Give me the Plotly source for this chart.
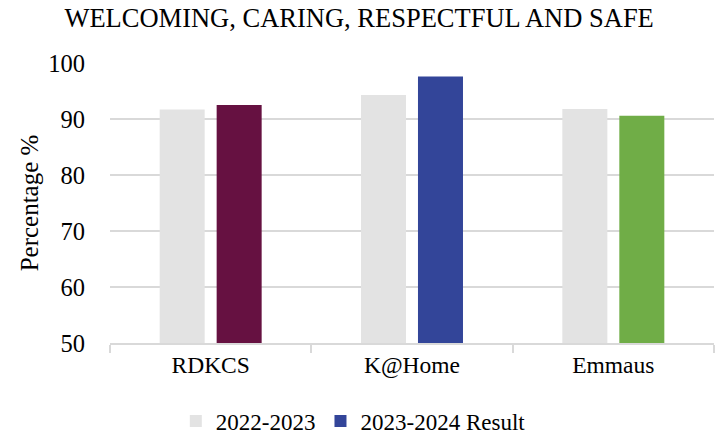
import plotly.graph_objects as go

# Survey results: share of respondents (%) agreeing with the statement
categories = ["RDKCS", "K@Home", "Emmaus"]
series_prev_name = "2022-2023"
series_curr_name = "2023-2024 Result"
values_prev = [91.7, 94.3, 91.8]
values_curr = [92.5, 97.6, 90.6]

prev_color = "#E3E3E3"
curr_colors = ["#661141", "#334599", "#70AD47"]
legend_curr_color = "#334599"

FONT = "Liberation Serif, Times New Roman, serif"
GRID = "#D9D9D9"

fig = go.Figure()
fig.add_trace(go.Bar(
    x=categories, y=values_prev, name=series_prev_name,
    marker=dict(color=prev_color, line=dict(width=0)),
    offsetgroup="prev",
))
fig.add_trace(go.Bar(
    x=categories, y=values_curr, name=series_curr_name,
    marker=dict(color=curr_colors, line=dict(width=0)),
    offsetgroup="curr", showlegend=False,
))
# legend entry for the current-year series
fig.add_trace(go.Bar(
    x=categories, y=[None] * len(categories), name=series_curr_name,
    marker=dict(color=legend_curr_color, line=dict(width=0)),
    offsetgroup="curr", showlegend=True, hoverinfo="skip",
))

fig.update_layout(
    width=724, height=436,
    margin=dict(l=110, r=10, t=63, b=93, autoexpand=False),
    paper_bgcolor="white", plot_bgcolor="white",
    barmode="group", bargap=0.434, bargroupgap=0.21,
    font=dict(family=FONT, size=23, color="black"),
    title=dict(
        text="WELCOMING, CARING, RESPECTFUL AND SAFE",
        x=0.496, xanchor="center", y=1 - 18 / 436, yanchor="middle",
        font=dict(family=FONT, size=26.5, color="black"),
    ),
    legend=dict(
        orientation="h", xref="container", x=0.488, xanchor="center",
        yref="container", y=1 - 421 / 436, yanchor="middle",
        font=dict(family=FONT, size=23, color="black"),
        traceorder="normal", itemwidth=30, tracegroupgap=0,
    ),
)

fig.update_yaxes(
    range=[50, 100], dtick=10, tick0=50,
    showgrid=True, gridcolor=GRID, gridwidth=1.5,
    zeroline=False, showline=False,
    ticks="outside", ticklen=19, tickcolor="rgba(0,0,0,0)",
    tickfont=dict(family=FONT, size=24.5, color="black"),
    title=dict(text="Percentage %", font=dict(family=FONT, size=25, color="black"), standoff=2),
)
fig.update_xaxes(
    showline=True, linecolor=GRID, linewidth=1.5,
    ticks="outside", tickson="boundaries", ticklen=8, tickcolor=GRID, tickwidth=1.5,
    showgrid=False,
    tickfont=dict(family=FONT, size=23.5, color="black"),
)

fig.write_html("out.html")
